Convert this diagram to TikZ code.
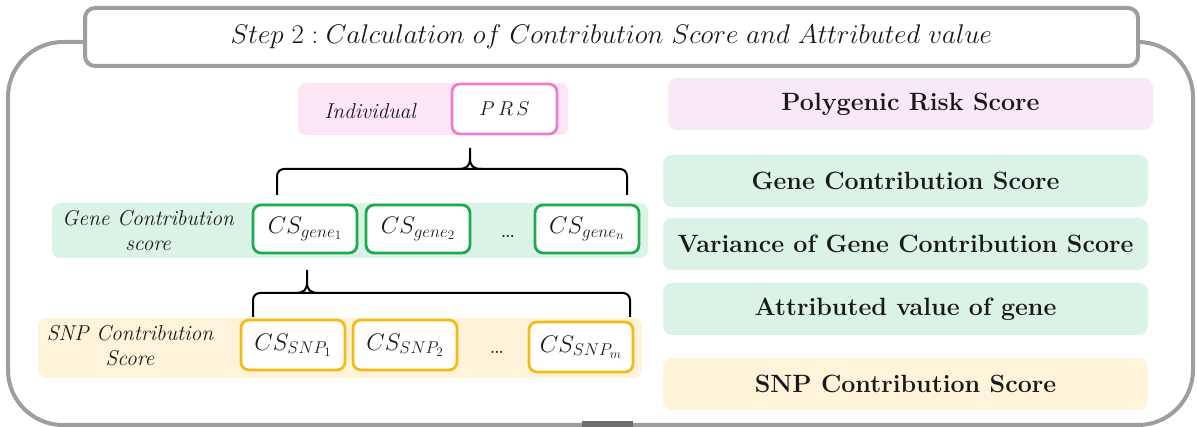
\RequirePackage{fix-cm}
\documentclass[tikz,border=0pt]{standalone}
\usetikzlibrary{calc}
\DeclareMathSizes{27}{27}{19}{14}
\DeclareMathSizes{24}{24}{17}{13}
\DeclareMathSizes{20}{20}{14}{10}
\definecolor{framegray}{RGB}{158,158,158}
\definecolor{darkgray}{RGB}{110,110,110}
\definecolor{pinkbg}{RGB}{252,230,245}
\definecolor{lavbg}{RGB}{248,233,247}
\definecolor{pinkline}{RGB}{236,125,205}
\definecolor{greenbg}{RGB}{219,242,230}
\definecolor{greenline}{RGB}{30,170,80}
\definecolor{yellowbg}{RGB}{255,244,218}
\definecolor{yellowline}{RGB}{246,186,20}
\definecolor{txt}{RGB}{25,25,25}
\tikzset{
  bgbox/.style={fill=#1, draw=none, rounded corners=8pt},
  cell/.style={draw=#1, line width=2.8pt, fill=white, rounded corners=8pt,
    minimum width=104pt, minimum height=48pt, inner sep=0pt, text=txt,
    font=\fontsize{24}{28}\selectfont},
  legend/.style={fill=#1, draw=none, rounded corners=9pt, minimum width=485pt,
    minimum height=52pt, inner sep=0pt, text=txt,
    font=\fontsize{25}{28}\selectfont\bfseries},
  rowlabel/.style={align=center, inner sep=0pt, text=txt,
    font=\fontsize{21.5}{25}\selectfont\itshape},
  dotslabel/.style={inner sep=0pt, text=txt, font=\fontsize{26}{28}\selectfont},
  bracelines/.style={draw=black, line width=2pt},
}
\begin{document}
\begin{tikzpicture}[x=1pt,y=-1pt]
\useasboundingbox (0,0) rectangle (1197,427);
% outer frame
\draw[framegray, line width=4pt, rounded corners=55pt] (8,42) rectangle (1193,425);
\fill[darkgray] (582,421) rectangle (633,427);
% title
\node[draw=framegray, line width=4pt, fill=white, rounded corners=10pt,
  minimum width=1053pt, minimum height=58pt, inner sep=0pt, text=txt,
  font=\fontsize{27}{30}\selectfont] (title) at (611.5,37)
  {$Step\ 2 : Calculation\ of\ Contribution\ Score\ and\ Attributed\ value$};

% left: individual row
\fill[bgbox=pinkbg] (298,83) rectangle (568,135);
\node[rowlabel] (ind) at (370,111) {Individual};
\node[cell=pinkline, minimum width=105pt, minimum height=50pt,
  font=\fontsize{20}{24}\selectfont] (prs) at (504.5,109) {$P\,R\,S$};

% gene row
\fill[bgbox=greenbg] (52,203) rectangle (648,258);
\node[rowlabel] (glab) at (148,231) {Gene Contribution\\score};
\node[cell=greenline] (g1) at (305,229) {$CS_{gene_1}$};
\node[cell=greenline] (g2) at (418,229) {$CS_{gene_2}$};
\node[dotslabel] (gd) at (508,236) {\ldots};
\node[cell=greenline] (gn) at (587,229) {$CS_{gene_n}$};

% snp row
\fill[bgbox=yellowbg] (38,318) rectangle (642,378);
\node[rowlabel] (slab) at (130,346) {SNP Contribution\\Score};
\node[cell=yellowline, minimum height=50pt] (s1) at (293,345) {$CS_{SNP_1}$};
\node[cell=yellowline, minimum height=50pt] (s2) at (405,345) {$CS_{SNP_2}$};
\node[dotslabel] (sd) at (497,352) {\ldots};
\node[cell=yellowline, minimum height=50pt] (sm) at (581,347) {$CS_{SNP_m}$};

% upper brace
\coordinate (ub1) at (277,195);
\coordinate (ub2) at (627,195);
\coordinate (ubt) at (470,148);
\draw[bracelines, rounded corners=7pt] (ub1) -- (277,169) -- (627,169) -- (ub2);
\draw[bracelines] (458,169) .. controls (467,169) and (470,166) .. (470,158) -- (ubt);
\draw[bracelines] (482,169) .. controls (473,169) and (470,166) .. (470,158);

% lower brace
\coordinate (lb1) at (253,317);
\coordinate (lb2) at (630,317);
\coordinate (lbt) at (307,270);
\draw[bracelines, rounded corners=7pt] (lb1) -- (253,293) -- (630,293) -- (lb2);
\draw[bracelines] (295,293) .. controls (304,293) and (307,290) .. (307,282) -- (lbt);
\draw[bracelines] (319,293) .. controls (310,293) and (307,290) .. (307,282);

% right legend boxes
\node[legend=lavbg] (lp) at (910.5,104) {Polygenic Risk Score};
\node[legend=greenbg] (lg) at (905.5,181) {Gene Contribution Score};
\node[legend=greenbg] (lv) at (905.5,244) {Variance of Gene Contribution Score};
\node[legend=greenbg] (la) at (905.5,309) {Attributed value of gene};
\node[legend=yellowbg] (ls) at (905.5,384) {SNP Contribution Score};
\end{tikzpicture}
\end{document}
